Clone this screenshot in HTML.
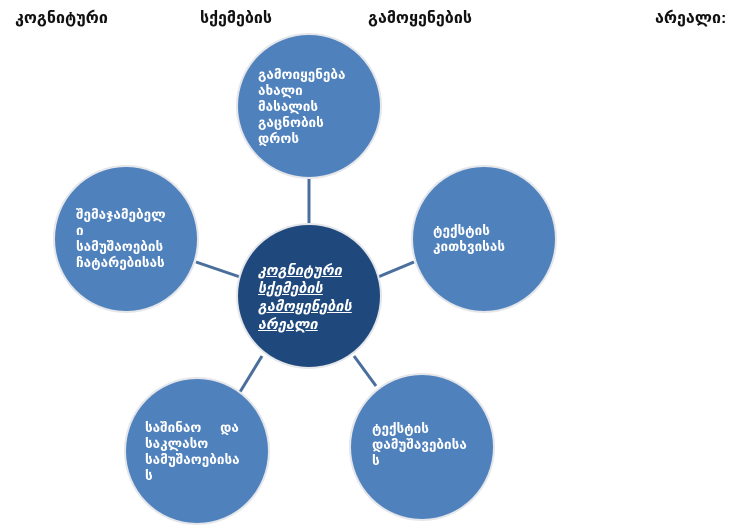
<!DOCTYPE html>
<html><head><meta charset="utf-8"><style>
body{margin:0;width:741px;height:486px;overflow:hidden;background:#fff;font-family:"Liberation Sans","DejaVu Sans",sans-serif;position:relative;}
.t{position:absolute;top:8px;font-size:16px;font-weight:bold;color:#111;}
.c{position:absolute;border-radius:50%;background:#4f81bd;border:2px solid #e4e6ea;box-sizing:border-box;}
.x{position:absolute;color:#fff;font-weight:bold;font-size:13.5px;line-height:16px;white-space:nowrap;}
</style></head><body>
<div class="t" style="left:15px">კოგნიტური</div>
<div class="t" style="left:200px">სქემების</div>
<div class="t" style="left:368px">გამოყენების</div>
<div class="t" style="left:655px">არეალი:</div>
<svg style="position:absolute;left:0;top:0" width="741" height="486">
<g stroke="#4a6f9c" stroke-width="3">
<line x1="309" y1="176" x2="309" y2="226"/>
<line x1="196" y1="262" x2="240" y2="277"/>
<line x1="414" y1="262" x2="378" y2="277"/>
<line x1="262" y1="356" x2="240" y2="392"/>
<line x1="354" y1="356" x2="376" y2="386"/>
</g></svg>
<div class="c" style="left:236px;top:33px;width:146px;height:146px"></div>
<div class="c" style="left:53px;top:165px;width:146px;height:148px"></div>
<div class="c" style="left:411px;top:165px;width:146px;height:148px"></div>
<div class="c" style="left:124px;top:377px;width:146px;height:148px"></div>
<div class="c" style="left:349px;top:373px;width:146px;height:148px"></div>
<div class="c" style="left:236px;top:223px;width:146px;height:146px;background:#1f497d"></div>
<div class="x" style="left:258px;top:67px">გამოიყენება<br>ახალი<br>მასალის<br>გაცნობის<br>დროს</div>
<div class="x" style="left:76px;top:207px">შემაჯამებელ<br>ი<br>სამუშაოების<br>ჩატარებისას</div>
<div class="x" style="left:433px;top:223px">ტექსტის<br>კითხვისას</div>
<div class="x" style="left:145px;top:420px">საშინაო &nbsp;&nbsp;&nbsp;&nbsp;და<br>საკლასო<br>სამუშაოებისა<br>ს</div>
<div class="x" style="left:372px;top:421px">ტექსტის<br>დამუშავებისა<br>ს</div>
<div class="x" style="left:258px;top:262px;font-style:italic;text-decoration:underline;font-size:14.5px;line-height:18px">კოგნიტური<br>სქემების<br>გამოყენების<br>არეალი</div>
</body></html>
